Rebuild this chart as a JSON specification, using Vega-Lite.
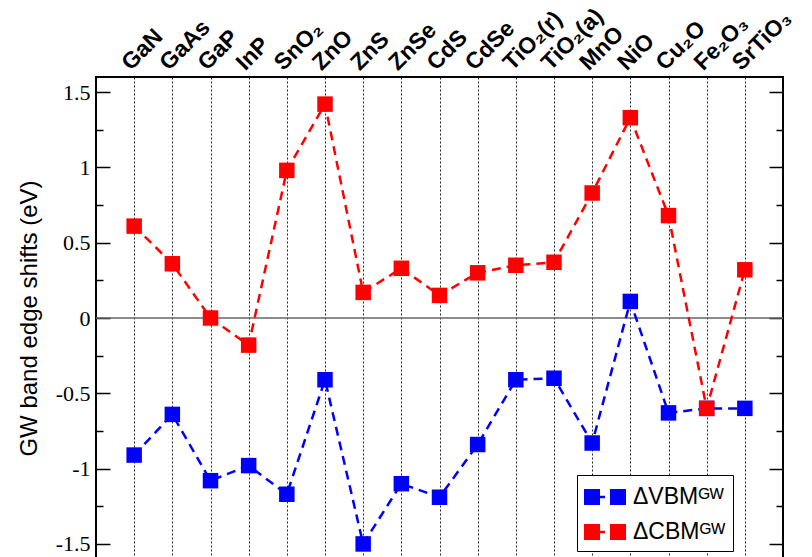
{
  "$schema": "https://vega.github.io/schema/vega-lite/v6.json",
  "width": 687,
  "height": 482,
  "autosize": "none",
  "padding": {"left": 96, "top": 77, "right": 29, "bottom": 0},
  "background": "white",
  "config": {
    "view": {"stroke": "black", "strokeWidth": 2},
    "axis": {"labelColor": "black", "titleColor": "black", "tickColor": "black"}
  },
  "data": {
    "values": [
      {"material": "GaN", "series": "ΔVBMᴳᵂ", "shift": -0.91},
      {"material": "GaAs", "series": "ΔVBMᴳᵂ", "shift": -0.64},
      {"material": "GaP", "series": "ΔVBMᴳᵂ", "shift": -1.08},
      {"material": "InP", "series": "ΔVBMᴳᵂ", "shift": -0.98},
      {"material": "SnO₂", "series": "ΔVBMᴳᵂ", "shift": -1.17},
      {"material": "ZnO", "series": "ΔVBMᴳᵂ", "shift": -0.41},
      {"material": "ZnS", "series": "ΔVBMᴳᵂ", "shift": -1.5},
      {"material": "ZnSe", "series": "ΔVBMᴳᵂ", "shift": -1.1},
      {"material": "CdS", "series": "ΔVBMᴳᵂ", "shift": -1.19},
      {"material": "CdSe", "series": "ΔVBMᴳᵂ", "shift": -0.84},
      {"material": "TiO₂(r)", "series": "ΔVBMᴳᵂ", "shift": -0.41},
      {"material": "TiO₂(a)", "series": "ΔVBMᴳᵂ", "shift": -0.4},
      {"material": "MnO", "series": "ΔVBMᴳᵂ", "shift": -0.83},
      {"material": "NiO", "series": "ΔVBMᴳᵂ", "shift": 0.11},
      {"material": "Cu₂O", "series": "ΔVBMᴳᵂ", "shift": -0.63},
      {"material": "Fe₂O₃", "series": "ΔVBMᴳᵂ", "shift": -0.6},
      {"material": "SrTiO₃", "series": "ΔVBMᴳᵂ", "shift": -0.6},
      {"material": "GaN", "series": "ΔCBMᴳᵂ", "shift": 0.61},
      {"material": "GaAs", "series": "ΔCBMᴳᵂ", "shift": 0.36},
      {"material": "GaP", "series": "ΔCBMᴳᵂ", "shift": 0.0},
      {"material": "InP", "series": "ΔCBMᴳᵂ", "shift": -0.18},
      {"material": "SnO₂", "series": "ΔCBMᴳᵂ", "shift": 0.98},
      {"material": "ZnO", "series": "ΔCBMᴳᵂ", "shift": 1.42},
      {"material": "ZnS", "series": "ΔCBMᴳᵂ", "shift": 0.17},
      {"material": "ZnSe", "series": "ΔCBMᴳᵂ", "shift": 0.33},
      {"material": "CdS", "series": "ΔCBMᴳᵂ", "shift": 0.15},
      {"material": "CdSe", "series": "ΔCBMᴳᵂ", "shift": 0.3},
      {"material": "TiO₂(r)", "series": "ΔCBMᴳᵂ", "shift": 0.35},
      {"material": "TiO₂(a)", "series": "ΔCBMᴳᵂ", "shift": 0.37},
      {"material": "MnO", "series": "ΔCBMᴳᵂ", "shift": 0.83},
      {"material": "NiO", "series": "ΔCBMᴳᵂ", "shift": 1.33},
      {"material": "Cu₂O", "series": "ΔCBMᴳᵂ", "shift": 0.68},
      {"material": "Fe₂O₃", "series": "ΔCBMᴳᵂ", "shift": -0.6},
      {"material": "SrTiO₃", "series": "ΔCBMᴳᵂ", "shift": 0.32}
    ]
  },
  "resolve": {"axis": {"y": "independent"}},
  "layer": [
    {
      "data": {"values": [{"zero": 0}]},
      "mark": {"type": "rule", "color": "#666666", "strokeWidth": 1.5},
      "encoding": {
        "y": {
          "field": "zero", "type": "quantitative",
          "scale": {"domain": [-1.6, 1.6], "nice": false, "zero": false},
          "axis": {
            "orient": "left", "values": [-1.5, -1, -0.5, 0, 0.5, 1, 1.5],
            "labelExpr": "'' + datum.value",
            "tickSize": -14, "tickWidth": 1.5, "domain": false, "grid": false,
            "labelFont": "Liberation Serif", "labelFontSize": 22, "labelPadding": 20,
            "title": "GW band edge shifts (eV)", "titleFont": "Liberation Sans",
            "titleFontSize": 24, "titleFontWeight": "normal", "titlePadding": 14
          }
        }
      }
    },
    {
      "data": {"values": [{"zero": 0}]},
      "mark": {"type": "rule", "opacity": 0},
      "encoding": {
        "y": {
          "field": "zero", "type": "quantitative",
          "scale": {"domain": [-1.6, 1.6], "nice": false, "zero": false},
          "axis": {
            "orient": "left", "values": [-1.25, -0.75, -0.25, 0.25, 0.75, 1.25],
            "tickSize": -7, "tickWidth": 1.5, "domain": false, "grid": false,
            "labels": false, "title": null
          }
        }
      }
    },
    {
      "data": {"values": [{"zero": 0}]},
      "mark": {"type": "rule", "opacity": 0},
      "encoding": {
        "y": {
          "field": "zero", "type": "quantitative",
          "scale": {"domain": [-1.6, 1.6], "nice": false, "zero": false},
          "axis": {
            "orient": "right", "values": [-1.5, -1, -0.5, 0, 0.5, 1, 1.5],
            "tickSize": -14, "tickWidth": 1.5, "domain": false, "grid": false,
            "labels": false, "title": null
          }
        }
      }
    },
    {
      "data": {"values": [{"zero": 0}]},
      "mark": {"type": "rule", "opacity": 0},
      "encoding": {
        "y": {
          "field": "zero", "type": "quantitative",
          "scale": {"domain": [-1.6, 1.6], "nice": false, "zero": false},
          "axis": {
            "orient": "right", "values": [-1.25, -0.75, -0.25, 0.25, 0.75, 1.25],
            "tickSize": -7, "tickWidth": 1.5, "domain": false, "grid": false,
            "labels": false, "title": null
          }
        }
      }
    },
    {
      "mark": {"type": "line", "strokeDash": [9, 6], "strokeWidth": 2.5},
      "encoding": {
        "x": {
          "field": "material", "type": "nominal",
          "scale": {"type": "point", "padding": 1, "domain": ["GaN","GaAs","GaP","InP","SnO₂","ZnO","ZnS","ZnSe","CdS","CdSe","TiO₂(r)","TiO₂(a)","MnO","NiO","Cu₂O","Fe₂O₃","SrTiO₃"]},
          "axis": {
            "orient": "top", "title": null, "ticks": false, "domain": false,
            "grid": true, "gridDash": [2, 2], "gridColor": "#000000", "gridWidth": 1, "gridOpacity": 0.85,
            "labelAngle": -45, "labelAlign": "left", "labelBaseline": "alphabetic",
            "labelFont": "Liberation Sans", "labelFontWeight": "bold", "labelFontSize": 23,
            "labelPadding": 6, "labelOffset": -4, "labelOverlap": false, "labelBound": false
          }
        },
        "y": {
          "field": "shift", "type": "quantitative",
          "scale": {"domain": [-1.6, 1.6], "nice": false, "zero": false},
          "axis": null
        },
        "stroke": {
          "field": "series", "type": "nominal",
          "scale": {"domain": ["ΔCBMᴳᵂ", "ΔVBMᴳᵂ"], "range": ["#ff0000", "#0000ff"]},
          "legend": null
        }
      }
    },
    {
      "mark": {"type": "point", "shape": "square", "filled": true, "size": 240, "opacity": 1},
      "encoding": {
        "x": {
          "field": "material", "type": "nominal",
          "scale": {"type": "point", "padding": 1, "domain": ["GaN","GaAs","GaP","InP","SnO₂","ZnO","ZnS","ZnSe","CdS","CdSe","TiO₂(r)","TiO₂(a)","MnO","NiO","Cu₂O","Fe₂O₃","SrTiO₃"]},
          "axis": {
            "orient": "top", "title": null, "ticks": false, "domain": false,
            "grid": true, "gridDash": [2, 2], "gridColor": "#000000", "gridWidth": 1, "gridOpacity": 0.85,
            "labelAngle": -45, "labelAlign": "left", "labelBaseline": "alphabetic",
            "labelFont": "Liberation Sans", "labelFontWeight": "bold", "labelFontSize": 23,
            "labelPadding": 6, "labelOffset": -4, "labelOverlap": false, "labelBound": false
          }
        },
        "y": {
          "field": "shift", "type": "quantitative",
          "scale": {"domain": [-1.6, 1.6], "nice": false, "zero": false},
          "axis": null
        },
        "color": {
          "field": "series", "type": "nominal",
          "scale": {"domain": ["ΔVBMᴳᵂ", "ΔCBMᴳᵂ"], "range": ["#0000ff", "#ff0000"]},
          "legend": {
            "orient": "none", "legendX": 481, "legendY": 398, "title": null,
            "strokeColor": "black", "fillColor": "white", "padding": 7,
            "symbolType": "M-1.4,-0.533H-0.333V0.533H-1.4Z M-0.333,-0.085H0V0.085H-0.333Z M0.333,-0.533H1.4V0.533H0.333Z",
            "symbolSize": 900, "symbolStrokeWidth": 0, "symbolOpacity": 1, "symbolOffset": 6,
            "labelFont": "Liberation Sans", "labelFontSize": 23, "labelColor": "black",
            "labelOffset": 13, "rowPadding": 8, "labelLimit": 300
          }
        }
      }
    }
  ]
}
